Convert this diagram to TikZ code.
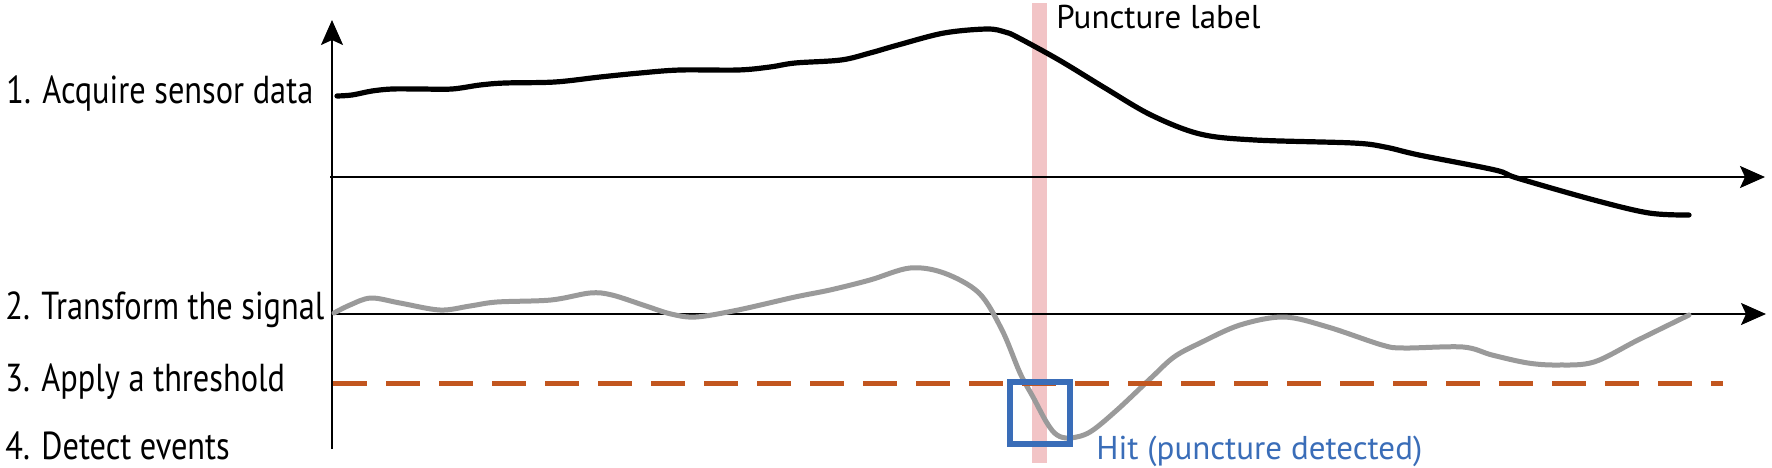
\documentclass[tikz,border=0pt]{standalone}
\usepackage{fontspec}
\setmainfont{PT Sans}
\newfontfamily\stepfont[FakeStretch=0.83]{PT Sans}
\usetikzlibrary{arrows.meta}
\definecolor{punkpink}{HTML}{F2C4C6}
\definecolor{throrange}{HTML}{C2561F}
\definecolor{hitblue}{HTML}{3A6DB8}
\definecolor{siggray}{HTML}{9A9A9A}
\tikzset{
  axisline/.style={line width=1pt, draw=black, -{Stealth[length=12.5pt,width=11pt,inset=2.5pt]}},
  rawsig/.style={line width=2.6pt, draw=black, line cap=round, line join=round},
  trsig/.style={line width=2.5pt, draw=siggray, line cap=round, line join=round},
  thrline/.style={line width=2.5pt, draw=throrange, dash pattern=on 17pt off 9.5pt},
  hitbox/.style={line width=3.25pt, draw=hitblue},
  steplabel/.style={anchor=base west, inner sep=0pt, font=\stepfont\fontsize{19.5}{19.5}\selectfont},
  smalllabel/.style={anchor=base west, inner sep=0pt, font=\fontsize{16.5}{16.5}\selectfont}
}
\begin{document}
\begin{tikzpicture}[x=0.5pt,y=-0.5pt]
\useasboundingbox (0,0) rectangle (1772,467);
% puncture bar
\fill[punkpink] (1032,3) rectangle (1047,463);
% axes
\coordinate (vbot) at (332,449);
\coordinate (vtop) at (332,20);
\coordinate (h1s) at (330,177);
\coordinate (h1e) at (1765,177);
\coordinate (h2s) at (332,314);
\coordinate (h2e) at (1766,314);
\draw[axisline] (vbot) -- (vtop);
\draw[axisline] (h1s) -- (h1e);
\draw[axisline] (h2s) -- (h2e);
% raw sensor data
\draw[rawsig] plot[smooth, tension=0.55] coordinates {
 (337,96) (352,95) (372,91) (392,89) (420,89) (452,89) (480,85) (505,83) (555,82)
 (600,77) (640,73) (680,70) (738,70) (770,67) (795,63) (841,60) (870,53) (898,45)
 (944,33) (987,29) (1005,32) (1017,37) (1059,60) (1105,88) (1151,115) (1200,134)
 (1255,140) (1353,143) (1385,147) (1419,155) (1495,170) (1517,178) (1594,200)
 (1649,213) (1689,215)};
% transformed signal
\draw[trsig] plot[smooth, tension=0.55] coordinates {
 (334,313) (350,305) (371,298) (400,303) (440,310) (470,306) (497,302) (551,300)
 (590,293) (612,295) (646,306) (671,314) (696,317) (738,310) (795,297) (830,290)
 (870,280) (910,268) (944,273) (979,293) (1002,330) (1020,373) (1033,397)
 (1047,423) (1057,435) (1070,438) (1090,432) (1117,410) (1151,378) (1174,357)
 (1200,343) (1240,325) (1284,317) (1328,327) (1382,345) (1404,348) (1463,347)
 (1492,355) (1528,363) (1558,365) (1594,362) (1638,340) (1689,315)};
% threshold
\coordinate (ts) at (333,383);
\coordinate (te) at (1723,383);
\draw[thrline] (ts) -- (te);
% hit box
\draw[hitbox] (1010,382) rectangle (1070,444);
% labels
\node[steplabel] (l1) at (6,103) {1. Acquire sensor data};
\node[steplabel] (l2) at (5,319) {2. Transform the signal};
\node[steplabel] (l3) at (5,391) {3. Apply a threshold};
\node[steplabel] (l4) at (5,459) {4. Detect events};
\node[smalllabel] (pl) at (1056,28) {Puncture label};
\node[smalllabel, text=hitblue] (hit) at (1096,459) {Hit (puncture detected)};
\end{tikzpicture}
\end{document}
